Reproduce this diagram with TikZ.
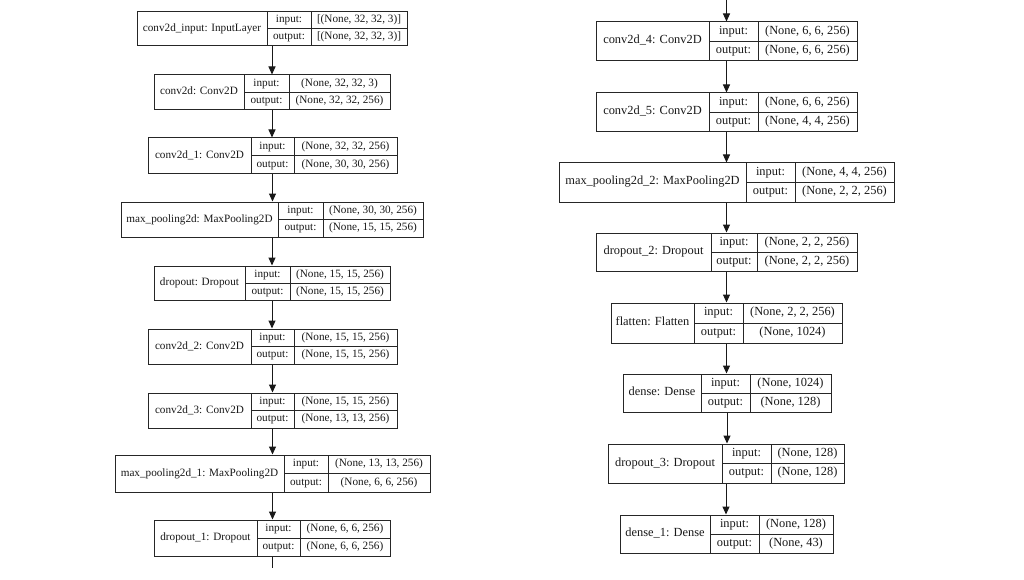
\documentclass[tikz,border=0pt]{standalone}
\usepackage{fontspec}
\setmainfont{Liberation Serif}
\usetikzlibrary{fit,arrows.meta}
\tikzset{
  layer/.style={draw=black!85, line width=1pt, inner sep=0pt, rectangle},
  cellline/.style={draw=black!85, line width=1pt},
  txt/.style={font=\fontsize{11.2}{13}\selectfont, text=black!90, inner sep=0pt, text height=0.7em, text depth=0.2em},
  arr/.style={draw=black!90, line width=1pt, -{Triangle[length=8pt,width=7pt]}},
  plain/.style={draw=black!90, line width=1pt},
}
% #1 name, #2 left, #3 divider1, #4 divider2, #5 right, #6 top, #7 bottom, #8 label
\newcommand\lbox[8]{%
  \coordinate (#1-nw) at (#2,#6);
  \coordinate (#1-se) at (#5,#7);
  \node[layer, fit=(#1-nw)(#1-se)] (#1) {};
  \draw[cellline] (#3,#6) -- (#3,#7) (#4,#6) -- (#4,#7) (#3,{(#6+#7)/2}) -- (#5,{(#6+#7)/2});
  \node[txt] (#1-lab) at ({(#2+#3)/2},{(#6+#7)/2}) {#8};
  \coordinate (#1-ic) at ({(#3+#4)/2},{(3*#6+#7)/4});
  \coordinate (#1-iv) at ({(#4+#5)/2},{(3*#6+#7)/4});
  \coordinate (#1-oc) at ({(#3+#4)/2},{(#6+3*#7)/4});
  \coordinate (#1-ov) at ({(#4+#5)/2},{(#6+3*#7)/4});
}
\newcommand\lio[3]{%
  \node[txt] (#1-in) at (#1-ic) {input:};
  \node[txt] (#1-inv) at (#1-iv) {#2};
  \node[txt] (#1-out) at (#1-oc) {output:};
  \node[txt] (#1-outv) at (#1-ov) {#3};
}
\begin{document}
\begin{tikzpicture}[x=1pt,y=-1pt]
\useasboundingbox[fill=white] (0,0) rectangle (1024,580);
% left column
\lbox{l1}{137}{267}{311}{407}{12}{46}{conv2d\_input: InputLayer}
\lio{l1}{[(None, 32, 32, 3)]}{[(None, 32, 32, 3)]}
\lbox{l2}{154}{244}{289}{390}{75}{110}{conv2d: Conv2D}
\lio{l2}{(None, 32, 32, 3)}{(None, 32, 32, 256)}
\lbox{l3}{148}{251}{294}{397}{138}{174}{conv2d\_1: Conv2D}
\lio{l3}{(None, 32, 32, 256)}{(None, 30, 30, 256)}
\lbox{l4}{121}{278}{323}{423}{202}{237}{max\_pooling2d: MaxPooling2D}
\lio{l4}{(None, 30, 30, 256)}{(None, 15, 15, 256)}
\lbox{l5}{154}{245}{290}{390}{266}{300}{dropout: Dropout}
\lio{l5}{(None, 15, 15, 256)}{(None, 15, 15, 256)}
\lbox{l6}{148}{251}{294}{397}{329}{364}{conv2d\_2: Conv2D}
\lio{l6}{(None, 15, 15, 256)}{(None, 15, 15, 256)}
\lbox{l7}{148}{251}{294}{397}{393}{428}{conv2d\_3: Conv2D}
\lio{l7}{(None, 15, 15, 256)}{(None, 13, 13, 256)}
\lbox{l8}{115}{284}{328}{430}{455}{492}{max\_pooling2d\_1: MaxPooling2D}
\lio{l8}{(None, 13, 13, 256)}{(None, 6, 6, 256)}
\lbox{l9}{154}{257}{300}{390}{520}{556}{dropout\_1: Dropout}
\lio{l9}{(None, 6, 6, 256)}{(None, 6, 6, 256)}
\coordinate (lend) at (272,568);
\foreach \a/\b in {l1/l2,l2/l3,l3/l4,l4/l5,l5/l6,l6/l7,l7/l8,l8/l9}
  \draw[arr] (\a.south) -- (\a.south |- \b.north);
\draw[plain] (l9.south) -- (l9.south |- lend);
% right column
\begin{scope}[txt/.style={font=\fontsize{12.4}{14}\selectfont, text=black!90, inner sep=0pt, text height=0.7em, text depth=0.2em}]
\lbox{r1}{596}{709}{758}{857}{22}{61}{conv2d\_4: Conv2D}
\lio{r1}{(None, 6, 6, 256)}{(None, 6, 6, 256)}
\lbox{r2}{596}{709}{758}{857}{93}{132}{conv2d\_5: Conv2D}
\lio{r2}{(None, 6, 6, 256)}{(None, 4, 4, 256)}
\lbox{r3}{559}{746}{795}{894}{163}{202}{max\_pooling2d\_2: MaxPooling2D}
\lio{r3}{(None, 4, 4, 256)}{(None, 2, 2, 256)}
\lbox{r4}{596}{711}{757}{857}{233}{271}{dropout\_2: Dropout}
\lio{r4}{(None, 2, 2, 256)}{(None, 2, 2, 256)}
\lbox{r5}{611}{694}{743}{842}{303}{343}{flatten: Flatten}
\lio{r5}{(None, 2, 2, 256)}{(None, 1024)}
\lbox{r6}{623}{701}{750}{831}{374}{412}{dense: Dense}
\lio{r6}{(None, 1024)}{(None, 128)}
\lbox{r7}{608}{722}{771}{844}{444}{483}{dropout\_3: Dropout}
\lio{r7}{(None, 128)}{(None, 128)}
\lbox{r8}{620}{710}{759}{833}{515}{553}{dense\_1: Dense}
\lio{r8}{(None, 128)}{(None, 43)}
\end{scope}
\coordinate (rstart) at (726.5,0);
\draw[arr] (rstart) -- (rstart |- r1.north);
\foreach \a/\b in {r1/r2,r2/r3,r3/r4,r4/r5,r5/r6,r6/r7,r7/r8}
  \draw[arr] (\a.south) -- (\a.south |- \b.north);
\end{tikzpicture}
\end{document}
